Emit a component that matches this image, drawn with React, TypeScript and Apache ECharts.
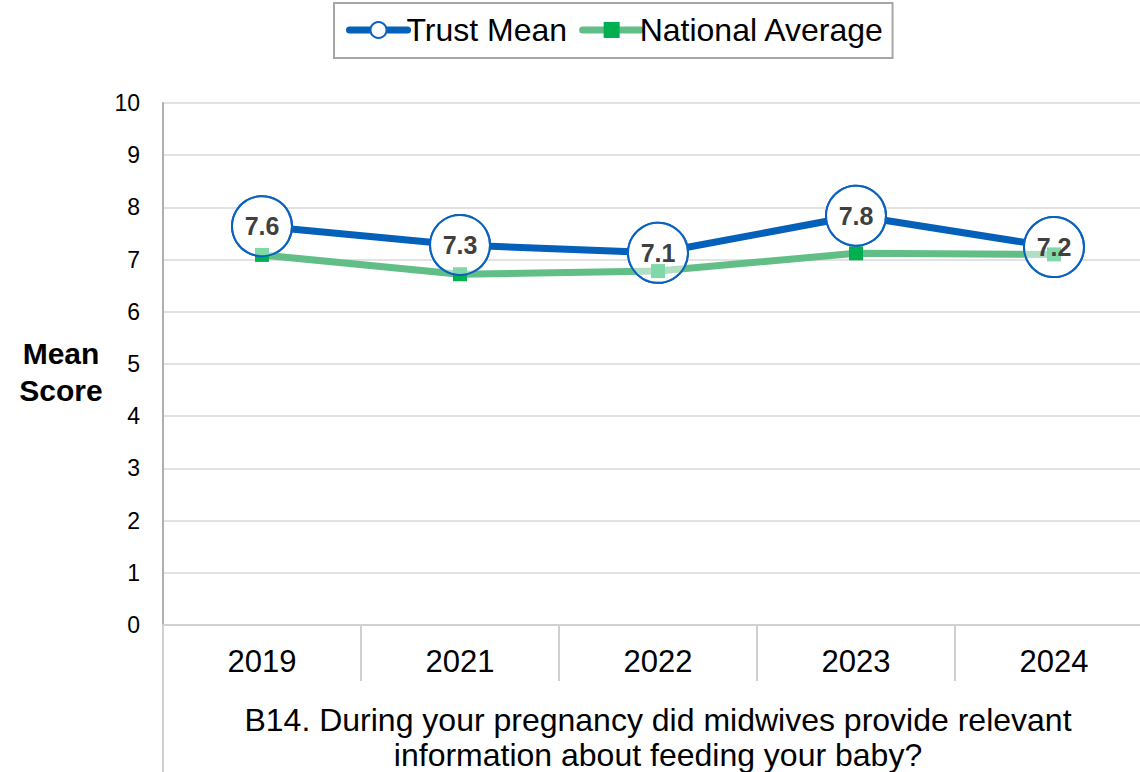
import React, { useEffect, useRef } from "react";
import * as echarts from "echarts";

const categories = ["2019", "2021", "2022", "2023", "2024"];
const trustMean = [7.64, 7.28, 7.13, 7.84, 7.24];
const nationalAverage = [7.09, 6.72, 6.78, 7.12, 7.1];
const yTicks = { min: 0, max: 10, interval: 1 };
const yTitle = "Mean\nScore";
const xTitle = "B14. During your pregnancy did midwives provide relevant\ninformation about feeding your baby?";

const FONT = "'Liberation Sans', Arial, sans-serif";
const BLUE = "#0560BA";
const BLUE_BORDER = "#0A62BE";
const GREEN_LINE = "#60BE86";
const GREEN_MARK = "#00B050";

export default function App() {
  const ref = useRef<HTMLDivElement>(null);
  useEffect(() => {
    document.body.style.margin = "0";
    if (!ref.current) return;
    const chart = echarts.init(ref.current, null, { renderer: "svg" });
    chart.setOption({
      animation: false,
      backgroundColor: "#ffffff",
      textStyle: { fontFamily: FONT },
      legend: {
        left: 334,
        top: 3,
        data: ["Trust Mean", "National Average"],
        borderColor: "#a6a6a6",
        borderWidth: 2,
        padding: [11, 8, 12, 12],
        itemGap: 12,
        itemWidth: 58,
        itemHeight: 20,
        lineStyle: { width: 7, cap: "round" },
        textStyle: { fontSize: 32, color: "#000", fontFamily: FONT, padding: [0, 0, 0, -6] },
      },
      grid: { left: 163, top: 103, width: 990, height: 522, outerBoundsMode: "none", containLabel: false },
      xAxis: {
        type: "category",
        data: categories,
        boundaryGap: true,
        axisLine: { show: true, lineStyle: { color: "#d0d0d0", width: 2 } },
        axisTick: { show: true, interval: 0, length: 56, lineStyle: { color: "#d0d0d0", width: 2 } },
        axisLabel: { fontSize: 31, color: "#000", margin: 21, fontFamily: FONT },
        name: xTitle,
        nameLocation: "middle",
        nameGap: 77,
        nameTextStyle: { fontSize: 32, color: "#000", lineHeight: 35, fontFamily: FONT },
      },
      yAxis: {
        type: "value",
        min: yTicks.min,
        max: yTicks.max,
        interval: yTicks.interval,
        axisLine: { show: true, lineStyle: { color: "#b0b0b0", width: 2 } },
        axisTick: { show: false },
        splitLine: { lineStyle: { color: "#d9d9d9", width: 1.5 } },
        axisLabel: { fontSize: 23, color: "#000", margin: 23, fontFamily: FONT },
      },
      graphic: [
        {
          type: "line",
          shape: { x1: 163, y1: 625, x2: 163, y2: 772 },
          style: { stroke: "#d0d0d0", lineWidth: 2 },
          silent: true,
        },
        {
          type: "text",
          x: 61,
          y: 372,
          style: {
            text: yTitle,
            fontSize: 30,
            fontWeight: "bold",
            fill: "#000",
            fontFamily: FONT,
            align: "center",
            verticalAlign: "middle",
            lineHeight: 37,
          },
        },
      ],
      series: [
        {
          name: "Trust Mean",
          type: "line",
          data: trustMean,
          z: 2,
          symbol: "circle",
          symbolSize: 60,
          lineStyle: { color: BLUE, width: 7 },
          itemStyle: { color: "#ffffff", borderColor: BLUE_BORDER, borderWidth: 2 },
          label: { show: false },
        },
        {
          name: "National Average",
          type: "line",
          data: nationalAverage,
          z: 3,
          symbol: "rect",
          symbolSize: 14,
          lineStyle: { color: GREEN_LINE, width: 7 },
          itemStyle: { color: GREEN_MARK },
        },
        {
          name: "Trust Mean labels",
          type: "line",
          data: trustMean,
          z: 4,
          symbol: "circle",
          symbolSize: 60,
          lineStyle: { width: 0, opacity: 0 },
          itemStyle: { color: "rgba(255,255,255,0.5)", borderColor: BLUE_BORDER, borderWidth: 2 },
          label: {
            show: true,
            position: "inside",
            fontSize: 25,
            fontWeight: "bold",
            color: "#404040",
            fontFamily: FONT,
            formatter: (p: any) => Number(p.value).toFixed(1),
          },
          tooltip: { show: false },
        },
      ],
    });
    return () => chart.dispose();
  }, []);
  return (
    <div
      ref={ref}
      style={{ position: "fixed", left: 0, top: 0, width: 1140, height: 772 }}
    />
  );
}
